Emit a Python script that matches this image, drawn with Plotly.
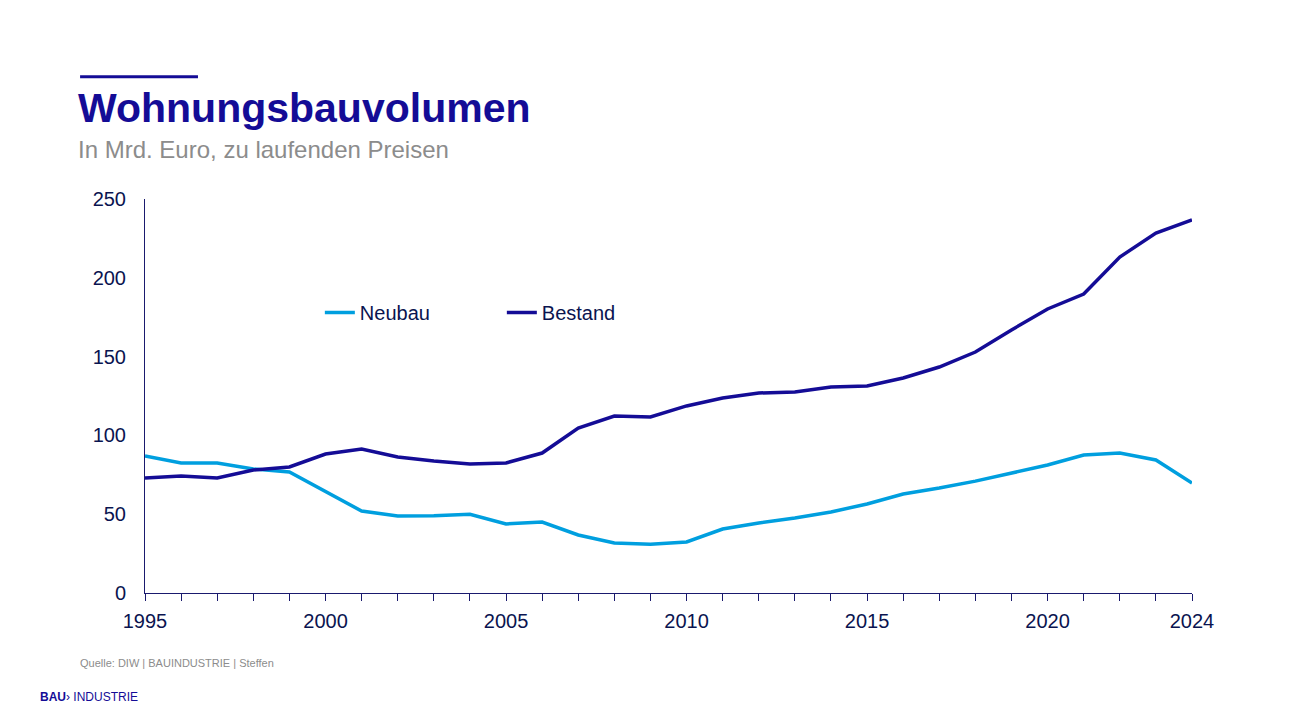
import plotly.graph_objects as go

years = list(range(1995, 2025))
neubau = [87, 82.5, 82.5, 78.7, 76.8, 64.7, 52, 48.9, 49, 50, 43.8, 45, 36.8, 31.7, 31,
          32.4, 40.6, 44.4, 47.6, 51.4, 56.5, 62.8, 66.6, 71, 76, 81.2, 87.6, 88.8, 84.4, 69.8]
bestand = [73, 74.2, 73, 78, 80, 88.2, 91.4, 86.3, 83.8, 81.9, 82.5, 88.8, 104.7, 112.3, 111.7,
           118.7, 123.7, 126.9, 127.5, 130.7, 131.3, 136.4, 143.4, 152.9, 166.9, 180.2, 189.7,
           213.2, 228.4, 236.7]
tick_years = [1995, 2000, 2005, 2010, 2015, 2020, 2024]

dark = "#140C96"
light = "#009FDF"

fig = go.Figure()
fig.add_trace(go.Scatter(x=years, y=neubau, name="Neubau", mode="lines",
                         line=dict(color=light, width=3.5)))
fig.add_trace(go.Scatter(x=years, y=bestand, name="Bestand", mode="lines",
                         line=dict(color=dark, width=3.5)))

fig.update_layout(
    width=1292, height=723,
    paper_bgcolor="white", plot_bgcolor="white",
    margin=dict(l=137, r=108, t=191, b=138),
    font=dict(family="Liberation Sans, Arial", color="#0A1450", size=20),
    showlegend=True,
    legend=dict(orientation="h", x=0.167, y=0.712, xanchor="left", yanchor="middle",
                entrywidth=137, font=dict(size=20, color="#0A1450"),
                bgcolor="rgba(0,0,0,0)"),
    xaxis=dict(range=[1995, 2024], tickvals=tick_years, showgrid=False, zeroline=False,
               showline=True, linecolor="#1A1A6E", linewidth=1,
               ticks="outside", ticklen=0, ticklabelstandoff=10,
               minor=dict(ticks="outside", ticklen=7, dtick=1, tickcolor="#1A1A6E",
                          tick0=1995)),
    yaxis=dict(range=[0, 250], dtick=50, showgrid=False, zeroline=False,
               showline=True, linecolor="#1A1A6E", linewidth=1, ticks="",
               ticklabelstandoff=14),
    shapes=[dict(type="line", xref="paper", yref="paper", x0=-0.062, x1=0.0506,
                 y0=1.31, y1=1.31, line=dict(color=dark, width=3))],
    annotations=[
        dict(text="<b>Wohnungsbauvolumen</b>", xref="paper", yref="paper",
             x=-0.066, y=1.295, xanchor="left", yanchor="top", showarrow=False,
             font=dict(size=41, color=dark)),
        dict(text="In Mrd. Euro, zu laufenden Preisen", xref="paper", yref="paper",
             x=-0.066, y=1.165, xanchor="left", yanchor="top", showarrow=False,
             font=dict(size=24, color="#8C8C8C")),
        dict(text="Quelle: DIW | BAUINDUSTRIE | Steffen", xref="paper", yref="paper",
             x=-0.064, y=-0.178, xanchor="left", yanchor="middle", showarrow=False,
             font=dict(size=11, color="#8C8C8C")),
        dict(text="<b>BAU</b>\u203a INDUSTRIE", xref="paper", yref="paper",
             x=-0.102, y=-0.265, xanchor="left", yanchor="middle", showarrow=False,
             font=dict(size=12, color=dark)),
    ],
)

fig.write_html("out.html")
